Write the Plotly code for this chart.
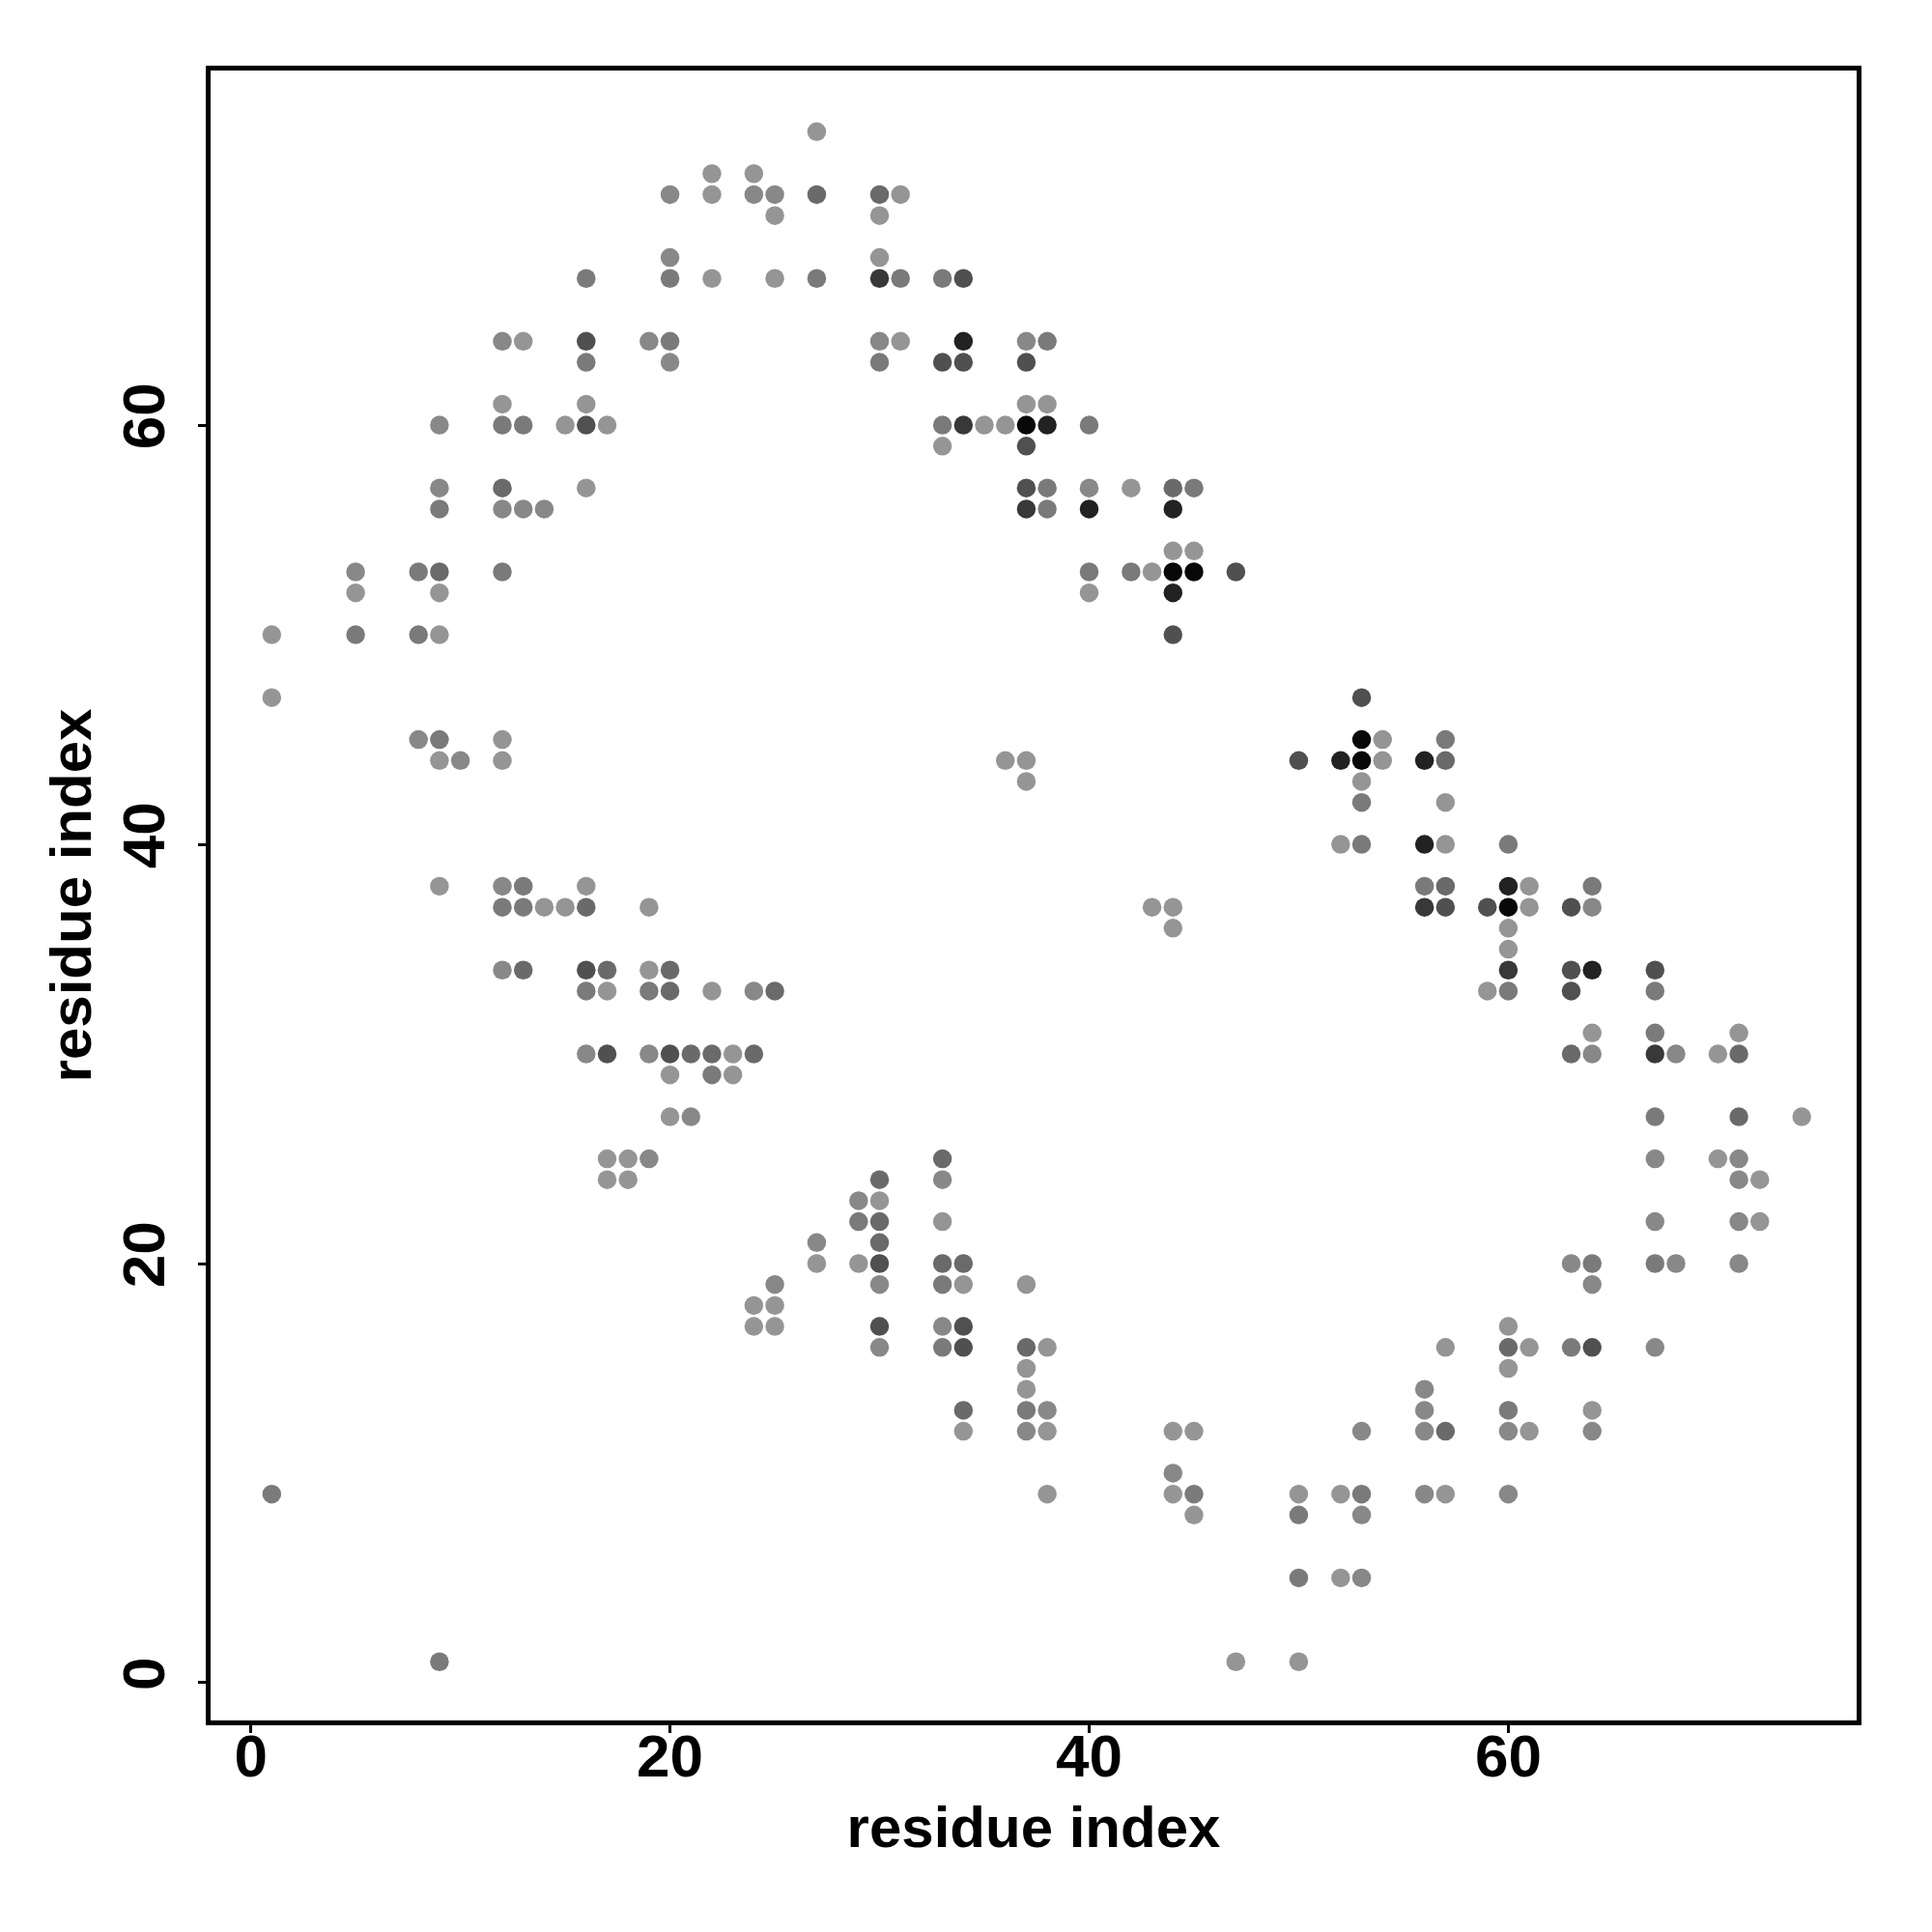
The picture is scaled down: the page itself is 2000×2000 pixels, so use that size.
import plotly.graph_objects as go

# contact shade levels: 0 = lightest grey ... 7 = near black
LEVEL_GREYS = [149, 136, 122, 106, 80, 56, 34, 8]

# rows of the contact map: (y residue) -> list of (x residue, shade level)
residue_i = []
residue_j = []
contact_level = []

rows = {
    74: [(27, 0)],
    72: [(22, 0), (24, 0)],
    71: [(20, 1), (22, 0), (24, 1), (25, 1), (27, 3), (30, 3), (31, 0)],
    70: [(25, 0), (30, 0)],
    68: [(20, 1), (30, 0)],
    67: [(16, 2), (20, 2), (22, 0), (25, 0), (27, 2), (30, 5), (31, 2), (33, 2), (34, 4)],
    64: [(12, 1), (13, 0), (16, 4), (19, 1), (20, 2), (30, 1), (31, 0), (34, 6), (37, 1), (38, 2)],
    63: [(16, 2), (20, 1), (30, 2), (33, 4), (34, 4), (37, 4)],
    61: [(12, 0), (16, 0), (37, 0), (38, 0)],
    60: [(9, 1), (12, 2), (13, 2), (15, 0), (16, 4), (17, 0), (33, 2), (34, 5), (35, 0), (36, 0),
         (37, 7), (38, 6), (40, 2)],
    59: [(33, 0), (37, 4)],
    57: [(9, 1), (12, 3), (16, 0), (37, 4), (38, 2), (40, 1), (42, 0), (44, 3), (45, 2)],
    56: [(9, 2), (12, 1), (13, 1), (14, 1), (37, 5), (38, 2), (40, 6), (44, 6)],
    54: [(44, 0), (45, 0)],
    53: [(5, 1), (8, 2), (9, 3), (12, 2), (40, 2), (42, 2), (43, 0), (44, 7), (45, 7), (47, 4)],
    52: [(5, 0), (9, 0), (40, 0), (44, 6)],
    50: [(1, 0), (5, 2), (8, 2), (9, 0), (44, 4)],
    47: [(1, 0), (53, 4)],
    45: [(8, 1), (9, 2), (12, 0), (53, 7), (54, 0), (57, 2)],
    44: [(9, 0), (10, 1), (12, 0), (36, 0), (37, 0), (50, 4), (52, 6), (53, 7), (54, 0), (56, 6), (57, 3)],
    43: [(37, 0), (53, 0)],
    42: [(53, 2), (57, 0)],
    40: [(52, 0), (53, 2), (56, 6), (57, 0), (60, 2)],
    38: [(9, 0), (12, 1), (13, 2), (16, 0), (56, 2), (57, 3), (60, 6), (61, 0), (64, 2)],
    37: [(12, 2), (13, 2), (14, 0), (15, 0), (16, 3), (19, 0), (43, 0), (44, 0), (56, 5), (57, 4),
         (59, 4), (60, 7), (61, 0), (63, 4), (64, 1)],
    36: [(44, 0), (60, 0)],
    35: [(60, 0)],
    34: [(12, 1), (13, 3), (16, 4), (17, 3), (19, 0), (20, 3), (60, 5), (63, 4), (64, 6), (67, 4)],
    33: [(16, 2), (17, 0), (19, 2), (20, 3), (22, 0), (24, 1), (25, 3), (59, 0), (60, 2), (63, 4), (67, 2)],
    31: [(64, 0), (67, 2), (71, 0)],
    30: [(16, 1), (17, 4), (19, 1), (20, 4), (21, 3), (22, 3), (23, 0), (24, 3), (63, 3), (64, 1),
         (67, 5), (68, 1), (70, 0), (71, 3)],
    29: [(20, 0), (22, 2), (23, 0)],
    27: [(20, 0), (21, 1), (67, 2), (71, 3), (74, 0)],
    25: [(17, 0), (18, 0), (19, 1), (33, 3), (67, 1), (70, 0), (71, 1)],
    24: [(17, 0), (18, 0), (30, 3), (33, 1), (71, 1), (72, 0)],
    23: [(29, 1), (30, 0)],
    22: [(29, 2), (30, 3), (33, 0), (67, 1), (71, 1), (72, 0)],
    21: [(27, 1), (30, 3)],
    20: [(27, 0), (29, 0), (30, 4), (33, 3), (34, 3), (63, 1), (64, 2), (67, 2), (68, 1), (71, 1)],
    19: [(25, 1), (30, 1), (33, 2), (34, 0), (37, 0), (64, 1)],
    18: [(24, 0), (25, 0)],
    17: [(24, 0), (25, 0), (30, 4), (33, 1), (34, 4), (60, 0)],
    16: [(30, 1), (33, 2), (34, 4), (37, 3), (38, 0), (57, 0), (60, 3), (61, 0), (63, 2), (64, 4), (67, 1)],
    15: [(37, 0), (60, 0)],
    14: [(37, 0), (56, 1)],
    13: [(34, 3), (37, 2), (38, 1), (56, 1), (60, 2), (64, 0)],
    12: [(34, 0), (37, 1), (38, 0), (44, 0), (45, 0), (53, 1), (56, 1), (57, 3), (60, 1), (61, 0), (64, 1)],
    10: [(44, 1)],
    9: [(1, 2), (38, 0), (44, 0), (45, 2), (50, 0), (52, 0), (53, 2), (56, 1), (57, 0), (60, 1)],
    8: [(45, 0), (50, 2), (53, 1)],
    5: [(50, 2), (52, 0), (53, 1)],
    1: [(9, 2), (47, 0), (50, 0)],
}

for j, pts in rows.items():
    for i, lev in pts:
        residue_i.append(i)
        residue_j.append(j)
        contact_level.append(lev)

x_ticks = [0, 20, 40, 60]
y_ticks = [0, 20, 40, 60]

n = len(LEVEL_GREYS) - 1
colorscale = [[k / n, f"rgb({g},{g},{g})"] for k, g in enumerate(LEVEL_GREYS)]

FONT = "Liberation Sans"

fig = go.Figure(
    go.Scatter(
        x=residue_i,
        y=residue_j,
        mode="markers",
        marker=dict(
            size=19.5,
            color=contact_level,
            colorscale=colorscale,
            cmin=0,
            cmax=n,
            line=dict(width=0),
            showscale=False,
        ),
        hoverinfo="x+y",
    )
)

axis_common = dict(
    showgrid=False,
    zeroline=False,
    showline=True,
    linecolor="black",
    linewidth=5,
    mirror=True,
    ticks="outside",
    ticklen=8,
    tickwidth=3,
    tickcolor="black",
    tickfont=dict(family=FONT, size=62, color="black", weight="bold"),
)

fig.update_layout(
    width=2000,
    height=2000,
    margin=dict(l=210, r=86, t=65, b=227),
    paper_bgcolor="white",
    plot_bgcolor="white",
    showlegend=False,
    font=dict(family=FONT, color="black"),
    xaxis=dict(
        range=[-1.92, 76.62],
        tickvals=x_ticks,
        ticktext=[str(v) for v in x_ticks],
        ticklabelstandoff=-29,
        title=dict(text="<b>residue index</b>", font=dict(family=FONT, size=60, color="black"), standoff=20),
        **axis_common,
    ),
    yaxis=dict(
        range=[-1.8, 76.92],
        tickvals=y_ticks,
        ticktext=[str(v) for v in y_ticks],
        tickangle=-90,
        ticklabelstandoff=10,
        title=dict(text="<b>residue index</b>", font=dict(family=FONT, size=60, color="black"), standoff=2),
        **axis_common,
    ),
)

fig.write_html("out.html")
